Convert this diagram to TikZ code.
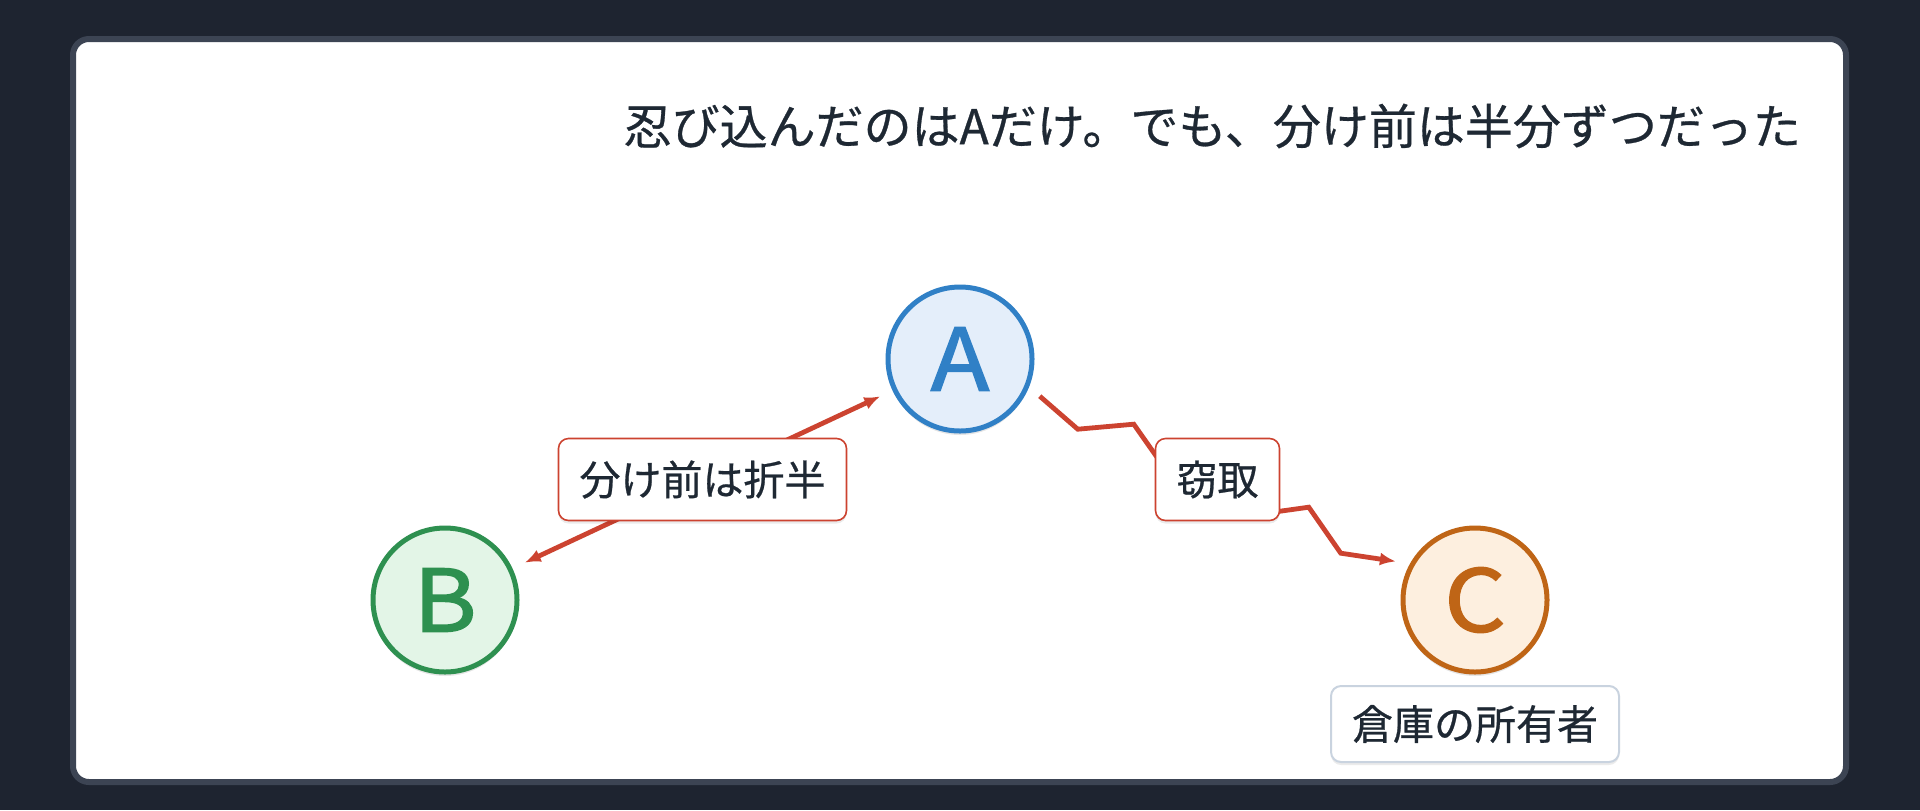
\documentclass[tikz,border=0pt]{standalone}
\usepackage{fontspec}
\setmainfont{Noto Sans CJK JP}[FakeBold=0.6]
\newfontfamily\partyfont{Noto Sans CJK JP}[FakeBold=1.8,FakeStretch=1.12]
\usetikzlibrary{arrows.meta,calc,shadows}

\definecolor{pagebg}{HTML}{1E2430}
\definecolor{cardrim}{HTML}{3C4453}
\definecolor{ink}{HTML}{1E2833}
\definecolor{thiefred}{HTML}{CC4330}
\definecolor{ablue}{HTML}{3080C6}
\definecolor{afill}{HTML}{E4EEFA}
\definecolor{bgreen}{HTML}{2E9050}
\definecolor{bfill}{HTML}{E3F5E7}
\definecolor{corange}{HTML}{BF6516}
\definecolor{cfill}{HTML}{FDEFDF}
\definecolor{ownerrim}{HTML}{C9D3DF}

\tikzset{
  party/.style={circle,line width=2.5pt,minimum size=72pt,inner sep=0pt,outer sep=8pt,
    font=\partyfont\fontsize{43}{43}\selectfont,
    drop shadow={shadow xshift=0pt,shadow yshift=-2pt,opacity=.10,fill=black}},
  tag/.style={rectangle,rounded corners=5pt,fill=white,text=ink,inner xsep=10.5pt,inner ysep=0pt,
    font=\fontsize{20.5}{20.5}\selectfont,
    drop shadow={shadow xshift=0pt,shadow yshift=-1.5pt,opacity=.08,fill=black}},
  redtag/.style={tag,draw=thiefred,line width=.8pt,minimum height=41pt},
  ownertag/.style={tag,draw=ownerrim,line width=1pt,minimum height=38pt},
  link/.style={thiefred,line width=2.4pt,line join=miter}
}

\begin{document}
\begin{tikzpicture}[x=0.5pt,y=-0.5pt,>={Latex[length=8pt,width=6.5pt]}]

\useasboundingbox (0,0) rectangle (1920,810);
\fill[pagebg] (0,0) rectangle (1920,810);
\filldraw[fill=white,draw=cardrim,line width=3pt,rounded corners=8pt] (73,39) rectangle (1846,782);

\node[anchor=east,text=ink,font=\fontsize{24}{24}\selectfont] (title) at (1808,126) {忍び込んだのはAだけ。でも、分け前は半分ずつだった};

\node[party,draw=ablue,fill=afill,text=ablue] (A) at (960,359) {A};
\node[party,draw=bgreen,fill=bfill,text=bgreen] (B) at (445,600) {B};
\node[party,draw=corange,fill=cfill,text=corange] (C) at (1475,600) {C};

\draw[link,<->] (B) -- node[redtag] (split) {分け前は折半} (A);
\draw[link,->] (A.-25) -- ++(38,33) -- ++(56,-5) -- ++(45,64) -- ++(80,26) -- ++(50,-7) -- ++(32,46) -- (C.154);
\node[redtag] (theft) at ($(A)!.5!(C)$) {窃取};

\node[ownertag] (owner) at (1475,724) {倉庫の所有者};

\end{tikzpicture}
\end{document}
